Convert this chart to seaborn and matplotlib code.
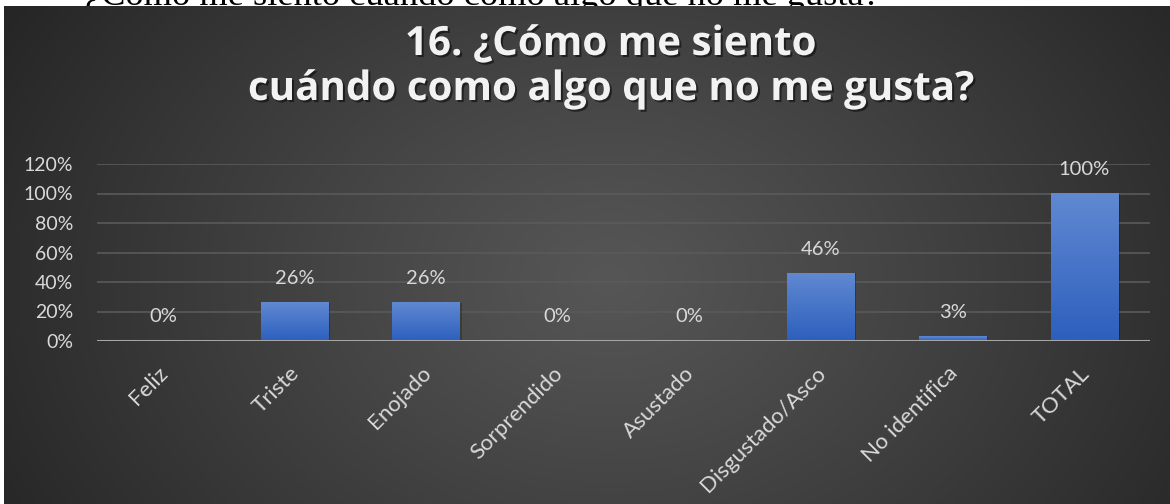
import numpy as np
import pandas as pd
import matplotlib
matplotlib.use("Agg")
import matplotlib.pyplot as plt
import matplotlib.patheffects as pe
from matplotlib.colors import LinearSegmentedColormap, to_rgb
from matplotlib.transforms import ScaledTranslation
import seaborn as sns

# Survey results: share of answers per emotion
categories = ["Feliz", "Triste", "Enojado", "Sorprendido", "Asustado",
              "Disgustado/Asco", "No identifica", "TOTAL"]
shares = [0.0, 0.26, 0.26, 0.0, 0.0, 0.46, 0.03, 1.00]
y_ticks = [0.0, 0.2, 0.4, 0.6, 0.8, 1.0, 1.2]
y_tick_labels = ["0%", "20%", "40%", "60%", "80%", "100%", "120%"]

title_line1 = "16. ¿Cómo me siento"
title_line2 = "cuándo como algo que no me gusta?"
heading = "¿Cómo me siento cuándo como algo que no me gusta?"

df = pd.DataFrame({"emocion": categories, "porcentaje": shares})

sns.set_theme(style="dark")
plt.rcParams["font.family"] = ["Lato", "DejaVu Sans"]

W, H = 1170, 504
fig = plt.figure(figsize=(W / 100, H / 100), dpi=100)
fig.patch.set_facecolor("white")

# Heading of the document page, mostly hidden behind the chart panel
fig.text(85 / W, 1 - 5 / H, heading, family="Liberation Serif", fontsize=26.2,
         color="black", ha="left", va="baseline", zorder=-5)

# Chart panel with a radial dark-grey gradient
bg = fig.add_axes([4 / W, 0, 1 - 4 / W, (H - 6) / H], zorder=-1)
gx, gy = np.meshgrid(np.linspace(0, 1, 600), np.linspace(0, 1, 300))
r = np.sqrt(((gx - 0.52) / 0.60) ** 2 + ((gy - 0.55) / 1.05) ** 2)
r = np.clip(r, 0, 1) ** 1.1
c_in = np.array(to_rgb("#565656"))
c_out = np.array(to_rgb("#262626"))
img = c_in[None, None, :] * (1 - r[..., None]) + c_out[None, None, :] * r[..., None]
bg.imshow(img, extent=[0, 1, 0, 1], aspect="auto", origin="upper")
bg.set_axis_off()

# Plot area
ax = fig.add_axes([97 / W, 163 / H, (1150 - 97) / W, 177 / H], zorder=1)
ax.set_facecolor("none")
sns.barplot(data=df, x="emocion", y="porcentaje", ax=ax, width=0.51,
            color="#3f6fc6", saturation=1)
ax.set_xlim(-0.5, len(categories) - 0.5)
ax.set_ylim(0, 1.2)
ax.set_yticks(y_ticks)
ax.set_yticklabels(y_tick_labels)
ax.set_xlabel("")
ax.set_ylabel("")
for s in ax.spines.values():
    s.set_visible(False)
ax.grid(False)
for yv in y_ticks[1:]:
    ax.axhline(yv, color="#5a5a5a", lw=1.2, zorder=0)
ax.axhline(0, color="#a6a6a6", lw=2.2, zorder=5)

# Vertical blue gradient inside each bar
bar_cmap = LinearSegmentedColormap.from_list("bar", ["#2c5fbd", "#6189d2"])
grad = np.linspace(0, 1, 256)[:, None]
for patch in ax.patches:
    x0, y0 = patch.get_x(), patch.get_y()
    w, h = patch.get_width(), patch.get_height()
    if h <= 0:
        continue
    patch.set_facecolor("none")
    patch.set_edgecolor("none")
    shadow = plt.Rectangle((x0 + 0.015, y0), w, h, transform=ax.transData,
                           facecolor="black", alpha=0.22, zorder=1.5,
                           edgecolor="none")
    ax.add_patch(shadow)
    ax.imshow(grad, extent=[x0, x0 + w, y0, y0 + h], cmap=bar_cmap,
              aspect="auto", origin="lower", zorder=2)
ax.set_xlim(-0.5, len(categories) - 0.5)
ax.set_ylim(0, 1.2)

# Value labels above the bars
for i, v in enumerate(shares):
    ax.annotate(f"{v * 100:.0f}%", (i, v), xytext=(0, 24),
                textcoords="offset pixels", ha="center", va="center",
                fontsize=14.5, color="#d9d9d9")

ax.tick_params(axis="both", length=0, colors="#d9d9d9")
ax.tick_params(axis="y", pad=17, labelsize=14)
ax.tick_params(axis="x", pad=16, labelsize=16)
shift = ScaledTranslation(-5 / 100, 0, fig.dpi_scale_trans)
for lab in ax.get_xticklabels():
    lab.set_rotation(45)
    lab.set_rotation_mode("anchor")
    lab.set_ha("right")
    lab.set_va("top")
    lab.set_transform(lab.get_transform() + shift)

# Two-line chart title with a soft shadow
shadow_fx = [pe.SimplePatchShadow(offset=(1.5, -1.5), shadow_rgbFace="black",
                                  alpha=0.5), pe.Normal()]
title_kw = dict(ha="center", va="baseline", fontsize=29, fontweight="bold",
                color="#f2f2f2", family=["Open Sans", "DejaVu Sans"],
                path_effects=shadow_fx)
fig.text(610 / W, 1 - 55 / H, title_line1, **title_kw)
fig.text(610 / W, 1 - 100 / H, title_line2, **title_kw)

fig.savefig("out.png", dpi=100)
